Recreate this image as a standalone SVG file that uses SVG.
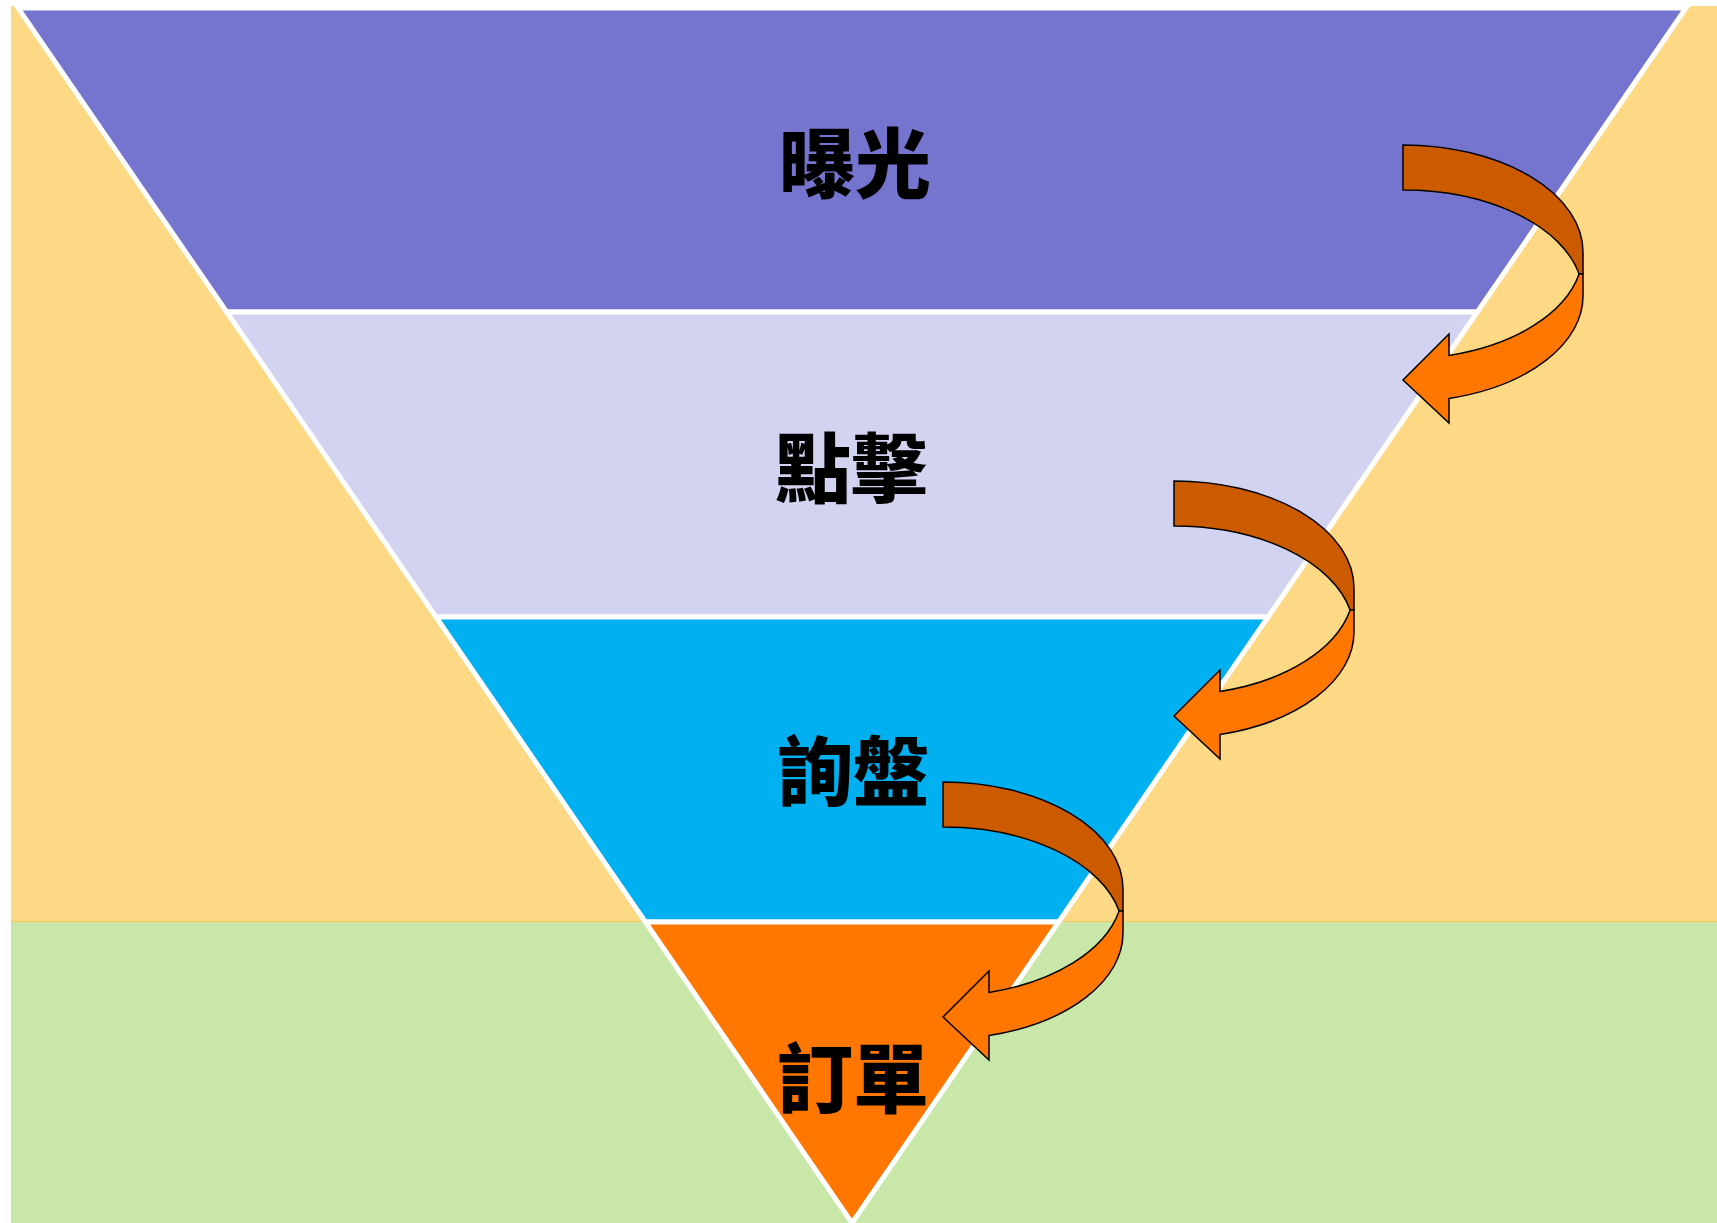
<svg xmlns="http://www.w3.org/2000/svg" xmlns:xlink="http://www.w3.org/1999/xlink" width="1717" height="1223" viewBox="0 0 1717 1223">
  <style>
    .band { stroke: #FFFFFF; stroke-width: 5; stroke-linejoin: miter; }
    .label { font-family: "Noto Sans CJK TC", "Noto Sans CJK SC", sans-serif; font-weight: 900; font-size: 76px; fill: #000000; text-anchor: middle; }
    .arrowBack { fill: #CC5B00; stroke: #000000; stroke-width: 1.5; stroke-linejoin: miter; }
    .arrowFront { fill: #FF7600; stroke: #000000; stroke-width: 1.5; stroke-linejoin: miter; }
  </style>
  <defs>
    <g id="curvedArrow">
      <path class="arrowBack" d="M0,0 A180,107 0 0 1 180,107 L180,129.1 L176.12,129.1 A180,106 0 0 0 0,45 Z"/>
      <path class="arrowFront" d="M176.12,129.1 L180,129.1 L180,151 A180,106 0 0 1 46,253.48 L46,278 L0,235 L46,189 L46,210.45 A180,107 0 0 0 176.12,129.1 Z"/>
    </g>
  </defs>

  <rect x="0" y="0" width="1717" height="1223" fill="#FFFFFF"/>
  <g id="background">
    <rect x="11" y="6" width="1706" height="916" fill="#FED985"/>
    <rect x="11" y="922" width="1706" height="301" fill="#C9E7A8"/>
    <line x1="11" y1="921.5" x2="1717" y2="921.5" stroke="#F3C75E" stroke-width="1.2"/>
  </g>

  <g id="node-exposure">
    <polygon class="band" fill="#7575CF" points="18,8 1686,8 1477.3,312 226.7,312"/>
    <text class="label" x="855" y="192">曝光</text>
  </g>
  <g id="node-click">
    <polygon class="band" fill="#D2D3F0" points="226.7,312 1477.3,312 1268,617 436,617"/>
    <text class="label" x="851" y="497">點擊</text>
  </g>
  <g id="node-inquiry">
    <polygon class="band" fill="#00B0F0" points="436,617 1268,617 1058.6,922 645.4,922"/>
    <text class="label" x="853" y="800">詢盤</text>
  </g>
  <g id="node-order">
    <polygon class="band" fill="#FF7600" points="645.4,922 1058.6,922 852,1223"/>
    <text class="label" x="853" y="1107">訂單</text>
  </g>

  <g id="connectors">
    <use xlink:href="#curvedArrow" href="#curvedArrow" transform="translate(1403,145)"/>
    <use xlink:href="#curvedArrow" href="#curvedArrow" transform="translate(1174,481)"/>
    <use xlink:href="#curvedArrow" href="#curvedArrow" transform="translate(943,782)"/>
  </g>
</svg>
